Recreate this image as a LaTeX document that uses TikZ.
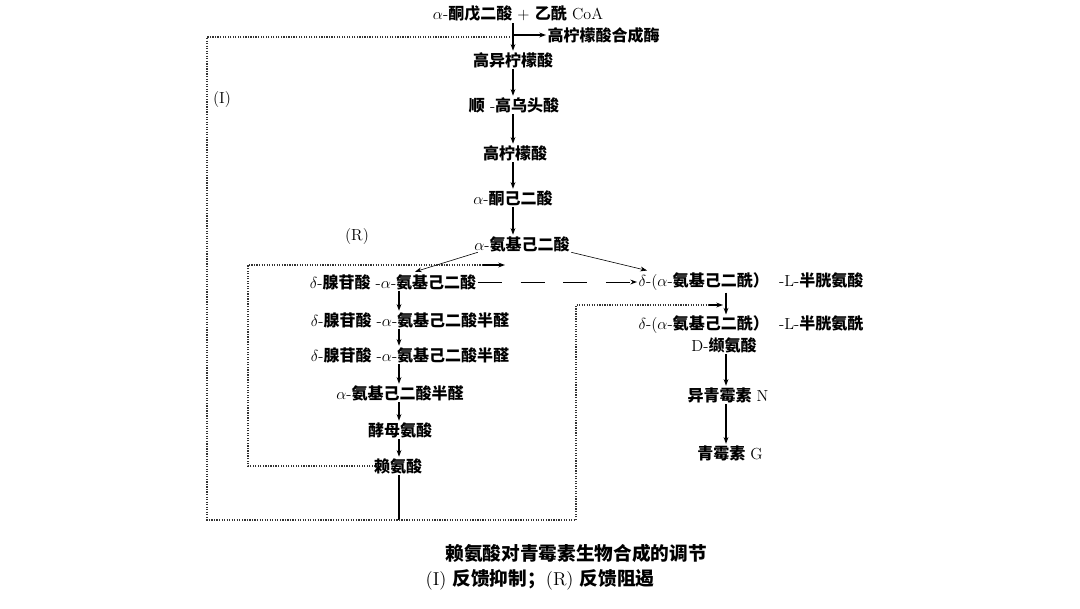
\documentclass[tikz,border=0pt]{standalone}
\usepackage{fontspec}
\newfontfamily\cjk{Noto Sans CJK SC}
\usetikzlibrary{arrows.meta,calc}
\newcommand{\zh}[1]{{\cjk\bfseries #1}}
\begin{document}
\begin{tikzpicture}[x=0.75pt,y=-0.75pt,
  lbl/.style={inner sep=1pt,font=\fontsize{12}{14}\selectfont},
  captext/.style={inner sep=1pt,font=\fontsize{14}{16}\selectfont},
  arr/.style={line width=0.8pt,-{Stealth[length=5pt,width=3.6pt]}},
  thinarr/.style={line width=0.45pt,-{Stealth[length=5pt,width=3.6pt]}},
  solidline/.style={line width=0.8pt},
  fb/.style={line width=0.9pt,densely dotted,black!80},
  dasharr/.style={line width=0.7pt,dash pattern=on 18pt off 14pt,-{Stealth[length=5pt,width=3.6pt]}}]
\useasboundingbox (0,0) rectangle (1080,608);
% main chain
\node[lbl] (t0) at (518,14) {$\alpha$-\zh{酮戊二酸} + \zh{乙酰} CoA};
\node[lbl,anchor=west] (enz) at (546,35) {\zh{高柠檬酸合成酶}};
\node[lbl] (n1) at (513,60) {\zh{高异柠檬酸}};
\node[lbl] (n2) at (514,105) {\zh{顺} -\zh{高乌头酸}};
\node[lbl] (n3) at (515,153) {\zh{高柠檬酸}};
\node[lbl] (n4) at (513,198) {$\alpha$-\zh{酮己二酸}};
\node[lbl] (n5) at (522,244) {$\alpha$-\zh{氨基己二酸}};
% left column
\node[lbl] (L1) at (393,282) {$\delta$-\zh{腺苷酸}\ -$\alpha$-\zh{氨基己二酸}};
\node[lbl] (L2) at (410,320) {$\delta$-\zh{腺苷酸}\ -$\alpha$-\zh{氨基己二酸半醛}};
\node[lbl] (L3) at (410,355) {$\delta$-\zh{腺苷酸}\ -$\alpha$-\zh{氨基己二酸半醛}};
\node[lbl] (L4) at (400,393) {$\alpha$-\zh{氨基己二酸半醛}};
\node[lbl] (L5) at (400,430) {\zh{酵母氨酸}};
\node[lbl] (L6) at (398,466) {\zh{赖氨酸}};
% right column
\node[lbl] (R1) at (751,282) {$\delta$-($\alpha$-\zh{氨基己二酰）}\ \ -L-\zh{半胱氨酸}};
\node[lbl] (R2) at (751,325) {$\delta$-($\alpha$-\zh{氨基己二酰）}\ \ -L-\zh{半胱氨酰}};
\node[lbl] (R3) at (724,345) {D-\zh{缬氨酸}};
\node[lbl] (R4) at (728,395) {\zh{异青霉素} N};
\node[lbl] (R5) at (730,453) {\zh{青霉素} G};
% labels
\node[lbl] (lI) at (222,100) {(I)};
\node[lbl] (lR) at (357,236) {(R)};
% caption
\node[captext] (c1) at (576,553) {\zh{赖氨酸对青霉素生物合成的调节}};
\node[captext] (c2) at (540,580) {(I)\ \zh{反馈抑制；}(R)\ \zh{反馈阻遏}};
% helper coordinates
\coordinate (mx) at (513,0);
\coordinate (lx) at (399,0);
\coordinate (rx) at (726,0);
% main arrows
\draw[arr] (mx |- t0.south) -- (mx |- n1.north);
\draw[arr] (mx |- enz.west) -- (enz.west);
\draw[arr] (mx |- n1.south) -- (mx |- n2.north);
\draw[arr] (mx |- n2.south) -- (mx |- n3.north);
\draw[arr] (mx |- n3.south) -- (mx |- n4.north);
\draw[arr] (mx |- n4.south) -- (mx |- n5.north);
% branches
\draw[thinarr] ($(n5.south west)+(5,-1)$) -- ($(L1.north)+(22,-1)$);
\draw[thinarr] ($(n5.south east)+(0,-1)$) -- ($(R1.north west)+(10,-1)$);
% left column arrows
\draw[arr] (lx |- L1.south) -- (lx |- L2.north);
\draw[arr] (lx |- L2.south) -- (lx |- L3.north);
\draw[arr] (lx |- L3.south) -- (lx |- L4.north);
\draw[arr] (lx |- L4.south) -- (lx |- L5.north);
\draw[arr] (lx |- L5.south) -- (lx |- L6.north);
% dashed link
\draw[dasharr] (L1.east) -- (R1.west);
% right column arrows
\draw[arr] (rx |- R1.south) -- (rx |- R2.north);
\draw[arr] (rx |- R3.south) -- (rx |- R4.north);
\draw[arr] (rx |- R4.south) -- (rx |- R5.north);
% feedback loops
\coordinate (bl) at (207,520);
\coordinate (br) at (576,520);
\coordinate (tl) at (207,37);
\coordinate (rr) at (576,305);
\coordinate (rtip) at (723,305);
\draw[solidline] (lx |- L6.south) -- (lx |- bl);
\draw[fb] ($(mx |- tl)+(-3,0)$) -- (tl) -- (bl) -- (br) -- (rr) -- ($(rtip)+(-12,0)$);
\draw[arr] ($(rtip)+(-14,0)$) -- (rtip);
\coordinate (rs) at (378,466);
\coordinate (rbl) at (248,466);
\coordinate (rtl) at (248,265);
\coordinate (rend) at (505,265);
\draw[fb] (rs) -- (rbl) -- (rtl) -- ($(rend)+(-20,0)$);
\draw[arr] ($(rend)+(-22,0)$) -- (rend);
\end{tikzpicture}
\end{document}
